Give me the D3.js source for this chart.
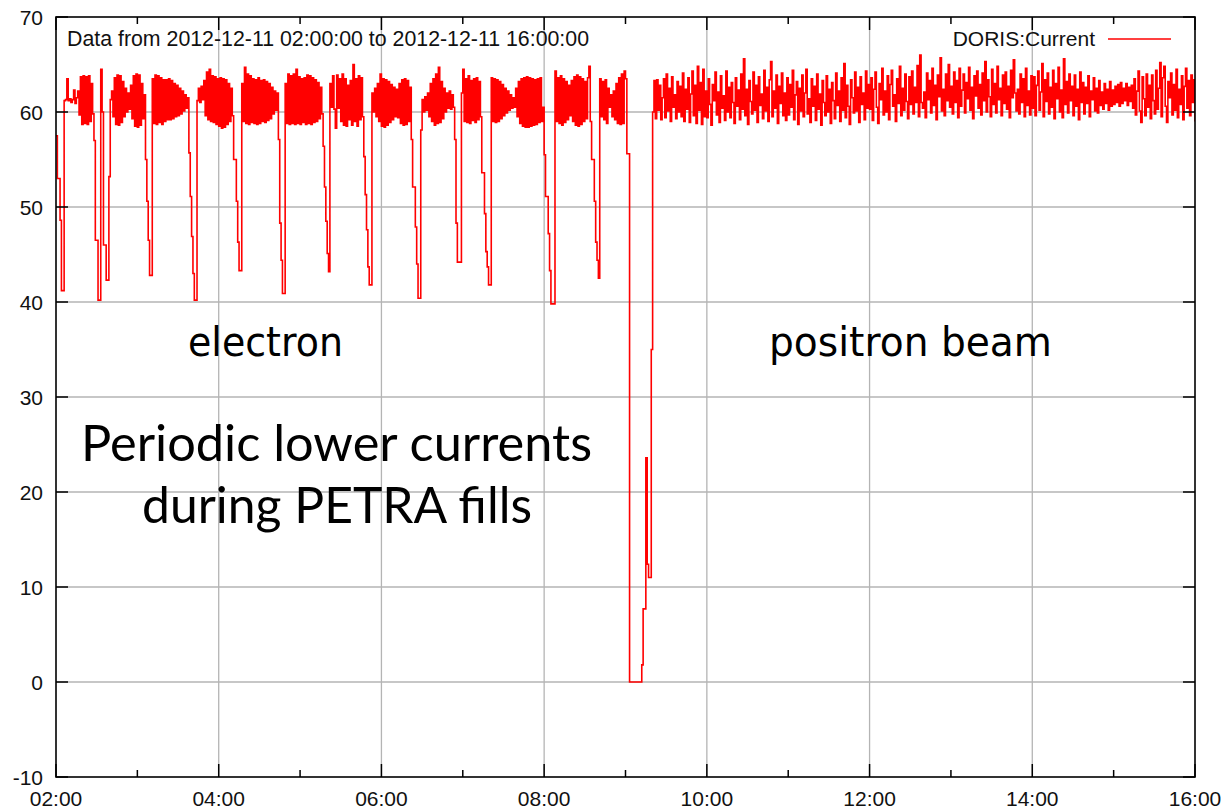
<!DOCTYPE html>
<html><head><meta charset="utf-8">
<script src="https://cdn.jsdelivr.net/npm/d3@7"></script>
<style>body{margin:0;background:#fff}svg{display:block}</style>
</head><body><svg id="c" width="1224" height="809"></svg>
<script>
// ---------------- data ----------------
const startTime = new Date(2012, 11, 11, 2, 0, 0);
const endTime = new Date(2012, 11, 11, 16, 0, 0);
const stepMinutes = 1;

const h02 = [57.5,53,53,48.6,41.2,41.2,61.2,61.3,63.5,61.2,
 61.4,61.0,61.3,62.3,60.9,61.5,62.2,59.7,63.7,58.7,
 63.8,58.8,63.7,58.7,63.8,59,63,59.8,57,46.5,
 46.5,40.2,40.2,64.5,60,46,46,42.3,42.3,53.2,
 61.3,62.2,59.5,63.6,58.7,63.9,58.6,63.8,58.9,63.2,
 59.5,62.5,60,62,60.3,62.8,59.3,63.8,58.5,64];
const h03 = [58.4,63.9,58.6,63,59.3,61.8,55,50.6,46.5,42.8,
 42.8,63.5,58.8,63.9,58.7,63.8,58.9,63.6,58.7,63.4,
 59,63.4,59.2,63.5,59.2,63.3,59.3,63,59.5,62.8,
 59.6,62.5,59.8,62.2,60.1,61.8,60.4,61.5,55.7,51.1,
 46.9,43,40.2,40.2,61.2,62.5,61,62.7,61.3,63.3,
 59.6,64.2,59.2,64.5,59,63.8,58.9,63.7,58.7,63.5];
const h04 = [58.5,63.6,58.3,63.5,58.4,63.4,58.7,63,59,62.5,
 59.6,55,55,50.6,46.3,43.3,43.3,63,59,64.7,
 58.8,64,58.7,63.8,58.9,63.5,58.8,63.4,58.7,63.6,
 58.8,63.3,59,63.4,58.9,63.2,59.1,63,59.3,62.6,
 59.8,62.2,60.2,62,57.1,48.3,44.4,40.9,40.9,63,
 58.8,64,58.7,63.8,58.8,64,58.7,64.5,58.8,63.7];
const h05 = [58.7,63.5,58.9,63.6,58.7,63.9,58.8,63.8,58.7,63.6,
 58.9,63.4,59,63.1,59.3,62.6,59.8,56.4,52.1,48.5,
 45.1,43.2,63,60.5,63.8,60.3,58.3,63.9,60.4,63.5,
 59,64,58.6,63.5,58.5,62.8,59.2,63.3,58.6,65,
 59,63.5,58.5,63.8,59.2,63.6,59.5,55.3,51.3,47.6,
 43.7,41.8,41.8,62,60,62.5,59.5,63,59,64];
const h06 = [58.5,63.5,58.4,63.4,58.6,63.2,58.9,62.9,59.2,62.6,
 59.5,62.4,59.4,63,58.8,63.4,58.6,63.5,58.7,63.3,
 59,62.6,57.1,52.1,52.1,47.9,44,40.4,40.4,58.1,
 61.3,60,61.6,60.2,62,59.5,63,59,63.5,58.6,
 64,58.8,64.7,58.9,63.2,59.3,62.5,60,62,60.4,
 62.2,60.3,61.8,60.5,57.1,48.3,44.2,44.2,44.2,62];
const h07 = [64.5,59,63.5,58.9,63.8,58.8,63.3,59.1,63.5,58.9,
 63.6,59.2,63.2,59.5,53.6,53.6,49.3,45.3,43.7,41.8,
 41.8,63.6,59,63.5,58.9,63.4,59,63.2,59.3,62.9,
 59.6,62.5,59.9,62.2,60.2,61.8,60.4,61.5,60.5,62.5,
 59.5,63.2,58.8,63.5,58.5,63.6,58.4,63.7,58.4,63.6,
 58.5,63.5,58.6,63.4,58.7,63.5,58.9,63.6,59,60.5];
const h08 = [55.5,51.1,51.1,47.2,43.3,39.8,39.8,39.8,64.3,59,
 63.6,58.8,63.8,58.6,63.5,58.9,63.2,59.2,62.8,59.6,
 63.3,59,63.7,58.6,63.9,58.5,63.7,58.7,63.5,59,
 63.2,59.3,63.6,64.8,59,55,55,50.6,46.3,44.4,
 42.5,63.5,59.5,63.2,59.2,63.4,58.8,62.5,60.5,61.8,
 59.5,62.2,59.2,63,58.8,63.6,58.7,64,58.8,64.3];
const h09 = [63.5,55.6,55.6,0,0,0,0,0,0,0,
 0,0,1.8,7.7,7.7,23.6,12.4,11,11,35,
 60,63.3,59.3,63.4,60.2,62.8,59.2,61.5,63.5,59.4,
 64,60.1,62.5,59,63.7,60.5,61.8,59.3,63.2,60,
 62.7,59.5,64.1,59,62.4,60.3,63.6,58.9,61.9,64.3,
 59.6,62.8,58.8,64.8,60.2,63.1,58.7,64.5,59.5,62.2];
const h10 = [59.4,63.5,60.8,58.6,62.9,61.2,64.2,59.7,62.1,58.9,
 63.8,60.4,61.7,59.1,64.3,60,62.6,59.4,63.1,61,
 58.8,63.6,60.6,62.3,59.2,64,60.3,65.6,59.6,62.4,
 58.7,63.3,61.1,59.8,64.2,60.2,62.8,58.9,63.7,60.7,
 61.9,59.3,64.4,60.1,62.6,59,63.4,65.3,59.5,62.2,
 60.4,63.9,58.8,62.7,60.9,64.1,59.6,62,59.1,63.6];
const h11 = [59.7,62.9,60.5,64.4,59.2,61.8,63.2,58.7,62.5,60.1,
 63.9,59.5,62,64.5,59.8,61.4,58.9,63.5,60.6,62.7,
 59.1,64,60.3,61.9,58.6,63.3,61,59.6,63.8,60,
 62.4,58.8,63.1,61.2,59.3,64.1,60.7,62.2,59,63.6,
 60.2,65.1,59.4,62.8,60.6,58.7,63.4,61.5,59.9,64.2,
 60.1,62.6,58.9,63.7,60.8,62,59.2,64.3,60.4,62.9];
const h12 = [60.3,63.6,59.1,62.4,64.2,60.5,58.8,63,61.3,64.6,
 59.7,62.2,60,63.8,59.2,62.9,64.4,60.6,61.8,59,
 63.5,60.9,64.8,59.6,62.5,60.2,64,61.1,59.3,63.7,
 60.8,64.3,59.8,62.6,61,64.9,59.5,66,61,60.4,
 62.1,59.4,64.1,61.3,63.3,59.9,64.6,60.7,62.8,59.2,
 63.9,61.6,65.7,60.1,62.4,59.6,64,61.2,65,60.5];
const h13 = [62.7,59.8,64.2,61,63.3,59.4,64.6,60.6,62.3,64,
 59.9,63.1,61.4,64.7,60.2,62.6,59.3,63.8,61.7,64.3,
 60.4,62.9,59.7,64.1,61.2,65.3,60,63.4,61.6,59.5,
 64.5,60.8,63,59.9,64.8,61.3,62.5,59.6,63.9,60.9,
 64.2,60.3,62.7,59.4,64.4,61.5,65.5,62,60.1,62.4,
 59.8,64,61,63.5,59.5,64.6,60.7,62.2,59.7,63.8];
const h14 = [60.4,63.7,59.6,62.8,64.3,60.2,62.1,65.1,59.5,63.4,
 61.1,64.1,59.8,62.6,60.5,64.4,59.3,63,61.4,64.7,
 60,62.3,59.4,65.6,60.8,63.2,59.9,64,61.2,62.7,
 59.6,63.9,60.6,62.4,59.2,64.2,61,63.1,59.8,62.6,
 60.9,63.8,59.5,62.2,61.3,63.6,60.1,62.5,59.9,63.3,
 60.7,62.1,60.3,63,60.9,62.4,60.2,63.2,60.6,62.3];
const h15 = [60.8,62.7,61,62.9,60.6,63.1,60.9,62.5,61.2,63,
 60.7,62.6,61.1,62.8,60.4,63.5,59.7,62.2,64.3,60.1,
 58.9,63.7,61.4,59.6,64,60.5,62.8,59.3,63.9,61.2,
 59.8,64.4,60.3,62.5,65.2,59.5,63.6,64.8,60.6,58.9,
 63.2,61.5,64.1,59.7,62.9,60.2,64.5,59.4,62.4,60.8,
 63.8,59.2,62.7,64.6,60.4,63.3,59.6,63.9,61,63.4];
const endValue = 59;

const yTickValues = [-10, 0, 10, 20, 30, 40, 50, 60, 70];
const titleText = "Data from 2012-12-11 02:00:00 to 2012-12-11 16:00:00";
const seriesName = "DORIS:Current";
const beamLabels = ["electron", "positron beam"];
const noteLines = ["Periodic lower currents", "during PETRA fills"];

// ---------------- chart ----------------
const values = [h02,h03,h04,h05,h06,h07,h08,h09,h10,h11,h12,h13,h14,h15].flat().concat([endValue]);
const points = values.map((v, i) => ({t: d3.timeMinute.offset(startTime, i * stepMinutes), v}));

const L = 56, R = 1195, T = 17, B = 777;
const x = d3.scaleTime().domain([startTime, endTime]).range([L, R]);
const y = d3.scaleLinear().domain([-10, 70]).range([B, T]);

const svg = d3.select("#c");
svg.append("rect").attr("width", 1224).attr("height", 809).attr("fill", "#fff");

const tickFont = "'Liberation Sans', Arial, Helvetica, sans-serif";
const gridColor = "#b4b4b4";

const majorTimes = d3.timeHour.every(2).range(startTime, d3.timeMinute.offset(endTime, 1));
const minorTimes = d3.timeHour.every(1).range(startTime, endTime).filter(d => d.getHours() % 2 === 1);

// grid
const grid = svg.append("g");
grid.selectAll("line.gx").data(majorTimes.filter(d => +d !== +startTime && +d !== +endTime)).join("line")
  .attr("x1", d => x(d)).attr("x2", d => x(d)).attr("y1", T).attr("y2", B)
  .attr("stroke", gridColor).attr("stroke-width", 1.3);
grid.selectAll("line.gy").data(yTickValues.filter(v => v > -10 && v < 70)).join("line")
  .attr("x1", L).attr("x2", R).attr("y1", d => y(d)).attr("y2", d => y(d))
  .attr("stroke", gridColor).attr("stroke-width", 1.3);

// title and key
svg.append("text").attr("x", 67).attr("y", 46).attr("font-family", tickFont).attr("font-size", 21.4)
  .attr("textLength", 522).attr("lengthAdjust", "spacingAndGlyphs")
  .attr("fill", "#111").text(titleText);
svg.append("text").attr("x", 1095).attr("y", 46).attr("text-anchor", "end").attr("font-family", tickFont)
  .attr("font-size", 21).attr("fill", "#111").text(seriesName);
svg.append("line").attr("x1", 1108).attr("x2", 1171).attr("y1", 39).attr("y2", 39)
  .attr("stroke", "#ff0000").attr("stroke-width", 1.5);

// data line
svg.append("clipPath").attr("id", "clip").append("rect").attr("x", L).attr("y", T).attr("width", R - L).attr("height", B - T);
const line = d3.line().x(d => x(d.t)).y(d => y(d.v)).curve(d3.curveStepAfter);
svg.append("path").datum(points).attr("clip-path", "url(#clip)")
  .attr("d", line).attr("fill", "none").attr("stroke", "#ff0000").attr("stroke-width", 1.6)
  .attr("stroke-linejoin", "miter");

// frame
svg.append("rect").attr("x", L).attr("y", T).attr("width", R - L).attr("height", B - T)
  .attr("fill", "none").attr("stroke", "#000").attr("stroke-width", 1.6);

// ticks
const tk = svg.append("g").attr("stroke", "#000").attr("stroke-width", 1.5);
majorTimes.forEach(d => {
  tk.append("line").attr("x1", x(d)).attr("x2", x(d)).attr("y1", B).attr("y2", B - 13);
  tk.append("line").attr("x1", x(d)).attr("x2", x(d)).attr("y1", T).attr("y2", T + 13);
});
minorTimes.forEach(d => {
  tk.append("line").attr("x1", x(d)).attr("x2", x(d)).attr("y1", B).attr("y2", B - 7);
  tk.append("line").attr("x1", x(d)).attr("x2", x(d)).attr("y1", T).attr("y2", T + 7);
});
yTickValues.forEach(v => {
  tk.append("line").attr("x1", L).attr("x2", L + 12).attr("y1", y(v)).attr("y2", y(v));
  tk.append("line").attr("x1", R).attr("x2", R - 12).attr("y1", y(v)).attr("y2", y(v));
});

// tick labels
const fmt = d3.timeFormat("%H:%M");
svg.append("g").selectAll("text").data(majorTimes).join("text")
  .attr("x", d => x(d)).attr("y", 806).attr("text-anchor", "middle")
  .attr("font-family", tickFont).attr("font-size", 21).attr("fill", "#111").text(d => fmt(d));
svg.append("g").selectAll("text").data(yTickValues).join("text")
  .attr("x", 43).attr("y", d => y(d)).attr("dy", "0.36em").attr("text-anchor", "end")
  .attr("font-family", tickFont).attr("font-size", 21).attr("fill", "#111").text(d => d);

// annotations
const annFont = "'DejaVu Sans', Verdana, sans-serif";
svg.append("text").attr("x", 188).attr("y", 356).attr("font-family", annFont).attr("font-size", 40)
  .attr("textLength", 155).attr("lengthAdjust", "spacingAndGlyphs").attr("fill", "#000").text(beamLabels[0]);
svg.append("text").attr("x", 769).attr("y", 356).attr("font-family", annFont).attr("font-size", 40)
  .attr("textLength", 283).attr("lengthAdjust", "spacingAndGlyphs").attr("fill", "#000").text(beamLabels[1]);

const noteFont = "Lato, 'Open Sans', sans-serif";
svg.append("text").attr("x", 81).attr("y", 461).attr("font-family", noteFont).attr("font-size", 51)
  .attr("textLength", 511).attr("lengthAdjust", "spacingAndGlyphs").attr("fill", "#000").text(noteLines[0]);
svg.append("text").attr("x", 142).attr("y", 523).attr("font-family", noteFont).attr("font-size", 51)
  .attr("textLength", 390).attr("lengthAdjust", "spacingAndGlyphs").attr("fill", "#000").text(noteLines[1]);
</script></body></html>
